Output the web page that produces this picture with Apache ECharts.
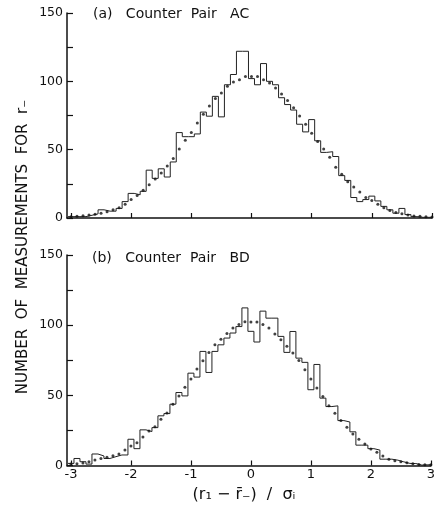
<!DOCTYPE html>
<html>
<head>
<meta charset="utf-8">
<script src="https://cdn.jsdelivr.net/npm/echarts@6/dist/echarts.min.js"></script>
<style>
  html, body { margin: 0; padding: 0; background: #fff; }
  #chart { width: 438px; height: 511px; }
</style>
</head>
<body>
<div id="chart"></div>
<script>
// Bin centres in units of sigma (bins of width 0.1)
const binCenters = Array.from({ length: 61 }, (_, i) => +(-3 + i * 0.1).toFixed(1));
const binWidth = 0.1;

// (a) Counter Pair AC
const histA = [1, 1, 1, 2, 3, 6, 5, 5, 7, 12,
  18, 17, 19.5, 35, 29, 36, 30, 41, 62.5, 59.5,
  59.5, 61.5, 77.5, 74.5, 89, 74, 97.5, 105, 122, 122,
  102, 97.5, 113, 100, 97.5, 88, 83, 79, 68.6, 63,
  72, 56.5, 48, 48.5, 45, 31, 27.5, 15, 12, 13.5,
  16, 12.5, 8.5, 6, 3.5, 7, 2.5, 1, 0.5, 0.5, 0.5];
const dotsA = [1, 1.2, 1.6, 2.2, 2.8, 3.5, 4.5, 6, 7.5, 10,
  13.5, 16.5, 20.3, 24.4, 28.5, 33, 38, 43.5, 50.5, 56.8,
  62.6, 69.5, 76, 82, 87.5, 91.5, 96.4, 99.5, 101.2, 103.6,
  103.6, 103.6, 101.2, 98.8, 95.2, 90.8, 86, 80.7, 74.6, 68.6,
  62, 56, 50.5, 44.4, 37.2, 32, 26.5, 22.7, 19, 15,
  12.8, 10, 7.5, 5.5, 4, 3.2, 2.2, 1.5, 1.2, 1, 0.8];

// (b) Counter Pair BD
const histB = [1.5, 5, 2.7, 1, 8.2, 6.8, 5, 6.3, 7.5, 7.5,
  18.7, 12, 25.4, 24.2, 27, 35.4, 37, 43.7, 52, 49.6,
  65.8, 63, 81.3, 66.3, 81.3, 86, 90.8, 94.4, 99, 112.3,
  95.6, 88, 110, 105, 105, 92, 80.6, 95.5, 76.5, 73.5,
  54, 72, 48, 42, 42.5, 32, 31, 24, 14.5, 14.5,
  12, 11, 4.5, 4.5, 3.8, 2.6, 1.5, 1.4, 0.3, 0.5, 0.5];
const dotsB = [1, 1.2, 1.8, 2.7, 4, 5, 5.9, 6.9, 8.2, 11,
  13.9, 16.3, 20.3, 24.5, 27.7, 33, 37.5, 43.7, 49.6, 55.8,
  61.6, 68.7, 74.7, 80.6, 86, 90, 94, 98, 100.4, 102.5,
  102.3, 102.3, 100.4, 98, 93.7, 89.6, 84.9, 80.2, 74.9, 68.3,
  61.6, 55.2, 49.2, 42.5, 37.3, 32, 27.3, 22.5, 18.7, 15.3,
  11.8, 9.5, 6.8, 4.4, 3.4, 2.7, 2, 1.2, 0.8, 0.5, 0.5];

const xTicks = [-3, -2, -1, 0, 1, 2, 3];
const yTicks = [0, 25, 50, 75, 100, 125, 150];
const yLabelEvery = 50;

const titleA = '(a)   Counter  Pair   AC';
const titleB = '(b)   Counter  Pair   BD';
const yTitle = 'NUMBER  OF  MEASUREMENTS  FOR  r\u208B';
const xTitle = '(r\u2081 \u2212 r\u0304\u208B)  /  \u03C3\u1D62';

function stepData(hist) {
  const pts = hist.map((v, i) => [binCenters[i] - binWidth / 2, v]);
  pts.push([binCenters[binCenters.length - 1] + binWidth / 2, hist[hist.length - 1]]);
  return pts;
}
function dotData(d) { return d.map((v, i) => [binCenters[i], v]); }

const FONT = 'DejaVu Sans';
const ink = '#111';

function xAxisCfg(gridIndex, showLabels) {
  return {
    type: 'value', gridIndex, min: -3.066, max: 3,
    axisLine: { onZero: false, lineStyle: { color: ink, width: 1.5 } },
    axisTick: { inside: true, length: 5, customValues: xTicks, lineStyle: { color: ink, width: 1.2 } },
    axisLabel: { show: showLabels, customValues: xTicks, color: ink, fontFamily: FONT, fontSize: 13, margin: 3,
      formatter: v => (v < 0 ? '-' + Math.abs(v) : String(v)) },
    splitLine: { show: false }
  };
}
function yAxisCfg(gridIndex) {
  return {
    type: 'value', gridIndex, min: yTicks[0], max: yTicks[yTicks.length - 1], interval: 25,
    axisLine: { show: true, onZero: false, lineStyle: { color: ink, width: 1.5 } },
    axisTick: { inside: true, length: 6, lineStyle: { color: ink, width: 1.2 } },
    axisLabel: { color: ink, fontFamily: FONT, fontSize: 12.5, margin: 4,
      formatter: v => (v % yLabelEvery === 0 ? String(v) : '') },
    splitLine: { show: false }
  };
}

const chart = echarts.init(document.getElementById('chart'), null, { renderer: 'canvas' });
chart.setOption({
  backgroundColor: '#fff',
  animation: false,
  grid: [
    { left: 67, right: 6, top: 13, height: 205 },
    { left: 67, right: 6, top: 255, height: 210.5 }
  ],
  xAxis: [xAxisCfg(0, false), xAxisCfg(1, true)],
  yAxis: [yAxisCfg(0), yAxisCfg(1)],
  series: [
    { type: 'line', xAxisIndex: 0, yAxisIndex: 0, step: 'end', data: stepData(histA),
      showSymbol: false, lineStyle: { color: '#222', width: 1 }, z: 2 },
    { type: 'scatter', xAxisIndex: 0, yAxisIndex: 0, data: dotData(dotsA),
      symbolSize: 3, itemStyle: { color: ink }, z: 3 },
    { type: 'line', xAxisIndex: 1, yAxisIndex: 1, step: 'end', data: stepData(histB),
      showSymbol: false, lineStyle: { color: '#222', width: 1 }, z: 2 },
    { type: 'scatter', xAxisIndex: 1, yAxisIndex: 1, data: dotData(dotsB),
      symbolSize: 3, itemStyle: { color: ink }, z: 3 }
  ],
  graphic: [
    { type: 'text', x: 93, y: 14, style: { text: titleA, font: '14px "DejaVu Sans"', fill: ink,
      textAlign: 'left', textVerticalAlign: 'middle', align: 'left', verticalAlign: 'middle' } },
    { type: 'text', x: 92, y: 258, style: { text: titleB, font: '14px "DejaVu Sans"', fill: ink,
      textAlign: 'left', textVerticalAlign: 'middle', align: 'left', verticalAlign: 'middle' } },
    { type: 'text', x: 23, y: 247, rotation: Math.PI / 2,
      style: { text: yTitle, font: '15px "DejaVu Sans"', fill: ink,
        textAlign: 'center', textVerticalAlign: 'middle', align: 'center', verticalAlign: 'middle' } },
    { type: 'text', x: 244, y: 495,
      style: { text: xTitle, font: '16px "DejaVu Sans"', fill: ink,
        textAlign: 'center', textVerticalAlign: 'middle', align: 'center', verticalAlign: 'middle' } }
  ]
});
</script>
</body>
</html>
